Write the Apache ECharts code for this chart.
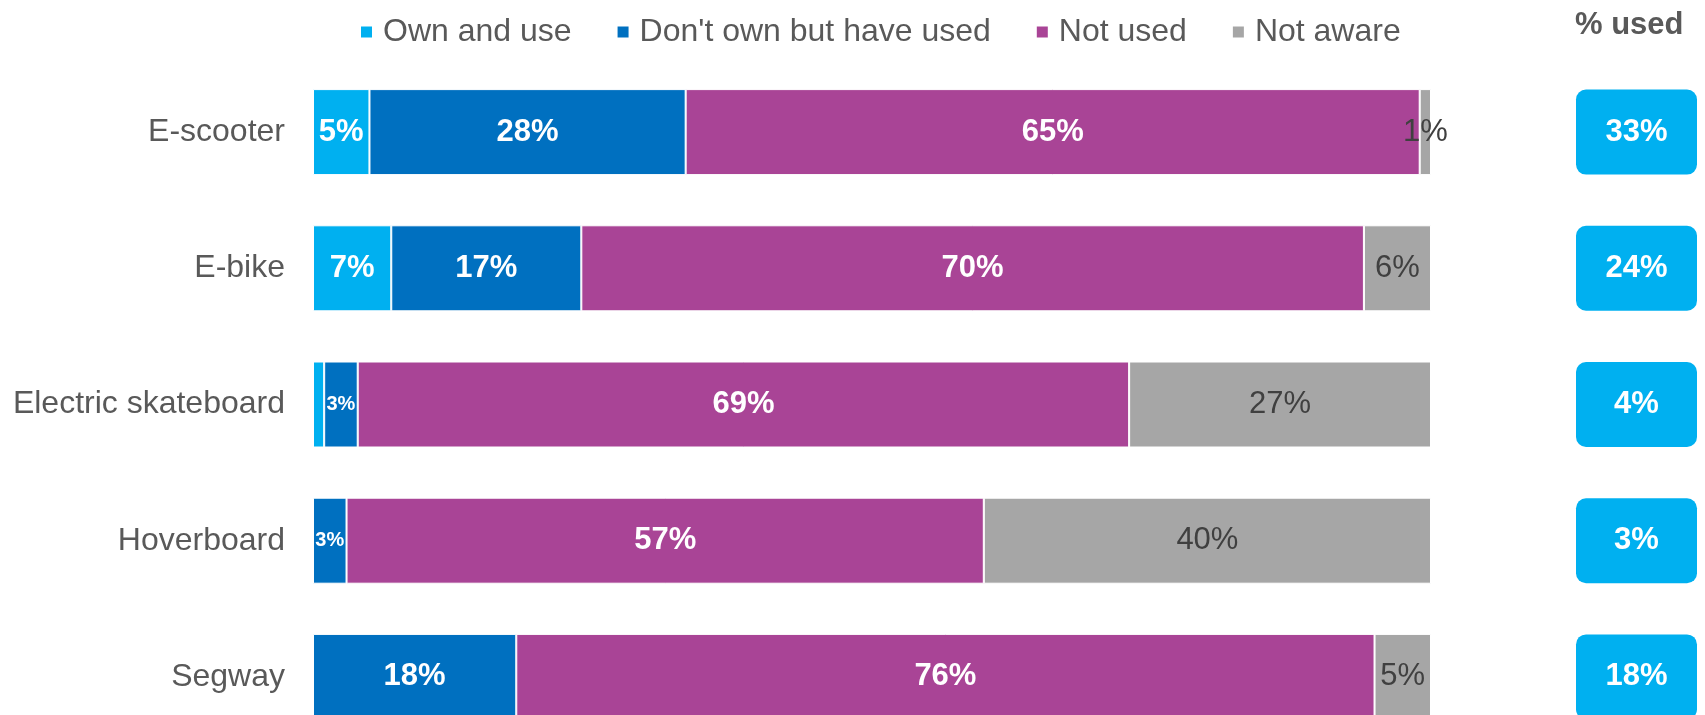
<!DOCTYPE html>
<html><head><meta charset="utf-8">
<script src="https://cdn.jsdelivr.net/npm/echarts@6/dist/echarts.min.js"></script>
<style>html,body{margin:0;padding:0;background:#fff}#c{width:1705px;height:715px}</style>
</head><body><div id="c"></div>
<script>
// ---- data (integer survey percentages, shown as a 100% stacked bar) ----
const categories = ['E-scooter', 'E-bike', 'Electric skateboard', 'Hoverboard', 'Segway'];
const seriesNames = ['Own and use', "Don't own but have used", 'Not used', 'Not aware'];
const ownAndUse = [5, 7, 1, 0, 0];
const dontOwnButUsed = [28, 17, 3, 3, 18];
const notUsed = [65, 70, 69, 57, 76];
const notAware = [1, 6, 27, 40, 5];
const usedPct = [33, 24, 4, 3, 18];

const FONT = "'Liberation Sans', Arial, sans-serif";
const colors = ['#00B0F0', '#0070C0', '#A94496', '#A6A6A6'];
const allSeries = [ownAndUse, dontOwnButUsed, notUsed, notAware];
const totals = categories.map((_, i) => allSeries.reduce((s, arr) => s + arr[i], 0));

function buildData(arr, sIdx) {
  return arr.map((v, i) => {
    const item = { value: v / totals[i] * 100, raw: v };
    const lbl = {};
    if (v === 0 || (sIdx < 3 && v <= 1)) lbl.show = false;
    else if (sIdx < 3 && v <= 3) lbl.fontSize = 20;
    item.label = lbl;
    return item;
  });
}

const barSeries = allSeries.map((arr, sIdx) => ({
  name: seriesNames[sIdx],
  type: 'bar',
  stack: 'total',
  xAxisIndex: 0,
  yAxisIndex: 0,
  barWidth: 86,
  itemStyle: { color: colors[sIdx], borderColor: '#ffffff', borderWidth: 1 },
  label: {
    show: true,
    position: 'inside',
    fontFamily: FONT,
    fontSize: 31,
    fontWeight: sIdx < 3 ? 'bold' : 'normal',
    color: sIdx < 3 ? '#ffffff' : '#404040',
    formatter: p => p.data.raw + '%'
  },
  emphasis: { disabled: true },
  data: buildData(arr, sIdx)
}));

const boxPath = 'path://M10,0H111A10,10,0,0,1,121,10V75A10,10,0,0,1,111,85H10A10,10,0,0,1,0,75V10A10,10,0,0,1,10,0Z';

const option = {
  animation: false,
  backgroundColor: '#ffffff',
  title: {
    text: '% used',
    left: 1570,
    top: 5,
    textStyle: { fontFamily: FONT, fontSize: 31, fontWeight: 'bold', color: '#595959' }
  },
  legend: {
    data: seriesNames,
    left: 354,
    top: 11,
    itemWidth: 13,
    itemHeight: 13,
    itemGap: 44,
    icon: 'rect',
    textStyle: { fontFamily: FONT, fontSize: 32, color: '#595959', padding: [0, 0, 0, 5] }
  },
  grid: [
    { left: 313, width: 1118, top: 64, height: 681, containLabel: false, outerBoundsMode: 'none' },
    { left: 1576, width: 121, top: 64, height: 681, containLabel: false, outerBoundsMode: 'none' }
  ],
  xAxis: [
    { type: 'value', gridIndex: 0, min: 0, max: 100, show: false },
    { type: 'value', gridIndex: 1, min: -1, max: 1, show: false }
  ],
  yAxis: [
    {
      type: 'category', gridIndex: 0, data: categories, inverse: true,
      axisLine: { show: false }, axisTick: { show: false }, splitLine: { show: false },
      axisLabel: { fontFamily: FONT, fontSize: 32, color: '#595959', margin: 28 }
    },
    { type: 'category', gridIndex: 1, data: categories, inverse: true, show: false }
  ],
  series: barSeries.concat([{
    type: 'scatter',
    xAxisIndex: 1,
    yAxisIndex: 1,
    symbol: boxPath,
    symbolKeepAspect: false,
    symbolSize: [121, 85],
    itemStyle: { color: '#00B0F0', opacity: 1 },
    label: {
      show: true, position: 'inside', fontFamily: FONT, fontSize: 31, fontWeight: 'bold', color: '#ffffff',
      formatter: p => usedPct[p.dataIndex] + '%'
    },
    emphasis: { disabled: true },
    data: usedPct.map((v, i) => [0, categories[i]])
  }])
};

const chart = echarts.init(document.getElementById('c'), null, { renderer: 'canvas' });
chart.setOption(option);
</script>
</body></html>
